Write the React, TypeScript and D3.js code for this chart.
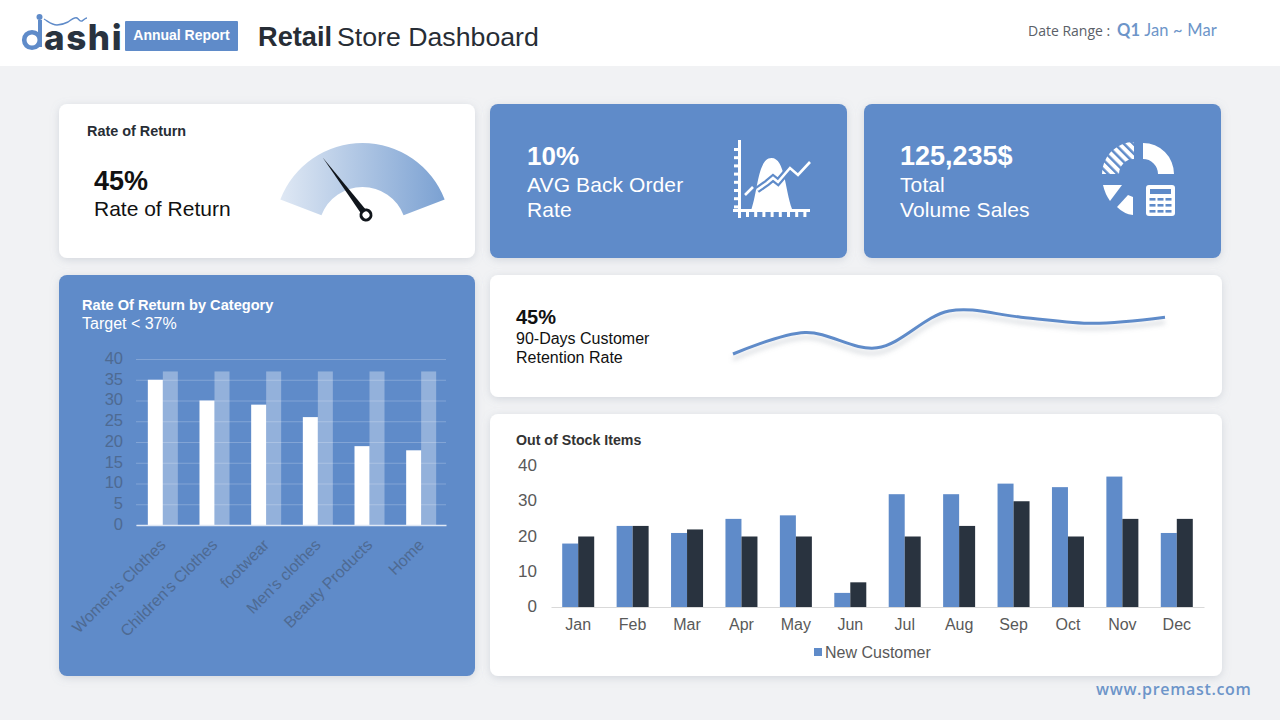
import React, { useRef, useEffect } from 'react';
import * as d3 from 'd3';

const categories = ["Women's Clothes", "Children's Clothes", 'footwear', "Men's clothes", 'Beauty Products', 'Home'];
const returnRates = [35, 30, 29, 26, 19, 18];
const targetRates = [37, 37, 37, 37, 37, 37];
const categoryTicks = [0, 5, 10, 15, 20, 25, 30, 35, 40];

const months = ['Jan', 'Feb', 'Mar', 'Apr', 'May', 'Jun', 'Jul', 'Aug', 'Sep', 'Oct', 'Nov', 'Dec'];
const newCustomer = [18, 23, 21, 25, 26, 4, 32, 32, 35, 34, 37, 21];
const otherItems = [20, 23, 22, 20, 20, 7, 20, 23, 30, 20, 25, 25];
const stockTicks = [0, 10, 20, 30, 40];

const retention = [38, 45, 40, 52, 50, 48, 50];

const BLUE = '#5f8bc9';
const DARK = '#29333f';
const SANS = '"Liberation Sans", Arial, sans-serif';
const LABEL_ON_BLUE = '#4e6a92';

const Card = ({ x, y, w, h, fill = '#fff' }: { x: number; y: number; w: number; h: number; fill?: string }) => (
  <rect x={x} y={y} width={w} height={h} rx={8} fill={fill} filter="url(#cardShadow)" />
);

const Gauge = () => {
  const arc = d3.arc();
  const a = (69 * Math.PI) / 180;
  const d = arc({ innerRadius: 44, outerRadius: 88, startAngle: -a, endAngle: a }) ?? '';
  const needleAngle = -37;
  return (
    <g>
      <path d={d} transform="translate(362.5,231)" fill="url(#gaugeFill)" />
      <g transform={`translate(366,215) rotate(${needleAngle})`}>
        <path d="M-3.2,0 L0,-72 L3.2,0 Z" fill="#10151b" />
        <circle r={5} fill="#fff" stroke="#10151b" strokeWidth={3} />
      </g>
    </g>
  );
};

const AreaIcon = () => {
  const yTicks = d3.range(148, 206, 8.2);
  const xTicks = d3.range(746, 810, 8.2);
  const trend = 'M745,195 L753,187 M757,190 L767,183 L773,178 L778,182 L790,168 L798,175 L810,162';
  return (
    <g fill="#fff" stroke="none">
      <rect x={738} y={140} width={3} height={78} />
      <rect x={733} y={209} width={77} height={3} />
      {yTicks.map((t) => (
        <rect key={t} x={734} y={t} width={5} height={3} />
      ))}
      {xTicks.map((t) => (
        <rect key={t} x={t} y={211} width={3} height={6} />
      ))}
      <path d="M751.5,209 C758,190 758,158 771.5,158 C785,158 785,190 792,209 Z" />
      <path d={trend} fill="none" stroke={BLUE} strokeWidth={7} />
      <path d={trend} fill="none" stroke="#fff" strokeWidth={2.6} />
    </g>
  );
};

const PieIcon = () => {
  const arc = d3.arc();
  const q = Math.PI / 2;
  const right = arc({ innerRadius: 15, outerRadius: 31, startAngle: 0, endAngle: q }) ?? '';
  const left = arc({ innerRadius: 15, outerRadius: 32, startAngle: -q, endAngle: 0 }) ?? '';
  const keys = d3.range(0, 3).flatMap((r) => d3.range(0, 3).map((c) => [r, c]));
  return (
    <g fill="#fff">
      <path d={right} transform="translate(1143,174)" />
      <path d={left} transform="translate(1134,174)" fill="url(#hatch)" />
      <path d="M1103,185 L1122,185 L1110,201 Q1105,194 1103,185 Z" />
      <path d="M1128,195 L1133,197 L1133,215 Q1124,214 1117,207 Z" />
      <rect x={1146} y={185} width={29} height={31} rx={3} />
      <rect x={1150} y={189} width={21} height={5} fill={BLUE} />
      {keys.map(([r, c]) => (
        <rect key={`${r}-${c}`} x={1149.5 + c * 8} y={198 + r * 6} width={6} height={2.6} fill={BLUE} />
      ))}
    </g>
  );
};

const Logo = () => (
  <g>
    <circle cx={32} cy={40} r={7.8} fill="none" stroke={BLUE} strokeWidth={4.6} />
    <path d="M40,20 V47" stroke={BLUE} strokeWidth={4} />
    <circle cx={39.5} cy={17} r={3} fill={BLUE} />
    <path
      d="M44,19 C49,22 52,25 57,25 C61,25 64,24 68,22 C72,19 75,17 77,18 C79,19 80,22 82,21 C84,20 85,18 87,18"
      fill="none"
      stroke={BLUE}
      strokeWidth={1.4}
    />
    <text x={44} y={50} fontFamily="Inter, sans-serif" fontWeight={800} fontSize={35} letterSpacing={1.6} fill={DARK}>
      ashi
    </text>
  </g>
);

const App = () => {
  const catRef = useRef<SVGGElement | null>(null);
  const stockRef = useRef<SVGGElement | null>(null);
  const lineRef = useRef<SVGGElement | null>(null);

  useEffect(() => {
    if (!catRef.current) {
      return;
    }
    const g = d3.select(catRef.current);
    g.selectAll('*').remove();

    const x = d3.scaleBand().domain(categories).range([136, 446]);
    const y = d3.scaleLinear().domain([0, 40]).range([525, 359]);
    const barW = 15;
    const barShift = 1;

    const yAxis = d3.axisLeft(y).tickValues(categoryTicks).tickSize(-310).tickPadding(13);
    g.append('g')
      .attr('transform', 'translate(136,0)')
      .call(yAxis)
      .call((s) => s.select('.domain').remove())
      .call((s) => s.selectAll('.tick line').attr('stroke', '#fff').attr('stroke-opacity', 0.22))
      .call((s) =>
        s
          .selectAll('.tick text')
          .attr('fill', LABEL_ON_BLUE)
          .attr('font-size', 16.5)
          .attr('font-family', SANS)
          .attr('dy', '0.27em'),
      );

    g.selectAll('.target')
      .data(targetRates)
      .join('rect')
      .attr('class', 'target')
      .attr('x', (_, i) => (x(categories[i]) ?? 0) + x.bandwidth() / 2 + barShift)
      .attr('y', (d) => y(d))
      .attr('width', barW)
      .attr('height', (d) => y(0) - y(d))
      .attr('fill', '#fff')
      .attr('fill-opacity', 0.33);

    g.selectAll('.rate')
      .data(returnRates)
      .join('rect')
      .attr('class', 'rate')
      .attr('x', (_, i) => (x(categories[i]) ?? 0) + x.bandwidth() / 2 - barW + barShift)
      .attr('y', (d) => y(d))
      .attr('width', barW)
      .attr('height', (d) => y(0) - y(d))
      .attr('fill', '#fff');

    const xAxis = d3.axisBottom(x).tickSize(0);
    g.append('g')
      .attr('transform', 'translate(0,525)')
      .call(xAxis)
      .call((s) => s.select('.domain').attr('stroke', '#dfe8f5').attr('stroke-width', 1.5))
      .call((s) =>
        s
          .selectAll('.tick text')
          .attr('fill', LABEL_ON_BLUE)
          .attr('font-size', 16)
          .attr('font-family', SANS)
          .attr('text-anchor', 'end')
          .attr('transform', 'translate(-3,13) rotate(-45)')
          .attr('dy', '0.7em')
          .attr('y', 0),
      );
  }, []);

  useEffect(() => {
    if (!stockRef.current) {
      return;
    }
    const g = d3.select(stockRef.current);
    g.selectAll('*').remove();

    const x = d3.scaleBand().domain(months).range([551, 1204]);
    const y = d3.scaleLinear().domain([0, 40]).range([607, 466]);
    const barW = 16;

    g.append('g')
      .attr('transform', 'translate(551,0)')
      .call(d3.axisLeft(y).tickValues(stockTicks).tickSize(0).tickPadding(14))
      .call((s) => s.select('.domain').remove())
      .call((s) =>
        s
          .selectAll('.tick text')
          .attr('fill', '#595959')
          .attr('font-size', 17)
          .attr('font-family', SANS)
          .attr('dy', '0.27em'),
      );

    g.selectAll('.cust')
      .data(newCustomer)
      .join('rect')
      .attr('class', 'cust')
      .attr('x', (_, i) => (x(months[i]) ?? 0) + x.bandwidth() / 2 - barW)
      .attr('y', (d) => y(d))
      .attr('width', barW)
      .attr('height', (d) => y(0) - y(d))
      .attr('fill', BLUE);

    g.selectAll('.other')
      .data(otherItems)
      .join('rect')
      .attr('class', 'other')
      .attr('x', (_, i) => (x(months[i]) ?? 0) + x.bandwidth() / 2)
      .attr('y', (d) => y(d))
      .attr('width', barW)
      .attr('height', (d) => y(0) - y(d))
      .attr('fill', DARK);

    g.append('g')
      .attr('transform', 'translate(0,607)')
      .call(d3.axisBottom(x).tickSize(0).tickPadding(12))
      .call((s) => s.select('.domain').attr('stroke', '#d9d9d9'))
      .call((s) =>
        s.selectAll('.tick text').attr('fill', '#595959').attr('font-size', 16).attr('font-family', SANS),
      );
  }, []);

  useEffect(() => {
    if (!lineRef.current) {
      return;
    }
    const g = d3.select(lineRef.current);
    g.selectAll('*').remove();

    const x = d3.scalePoint<number>().domain(d3.range(retention.length)).range([733, 1165]);
    const y = d3.scaleLinear().domain([38, 52]).range([354, 311]);
    const line = d3
      .line<number>()
      .curve(d3.curveCatmullRom.alpha(0.5))
      .x((_, i) => x(i) ?? 0)
      .y((d) => y(d));

    g.append('path')
      .datum(retention)
      .attr('d', line)
      .attr('fill', 'none')
      .attr('stroke', BLUE)
      .attr('stroke-width', 3)
      .attr('filter', 'url(#lineShadow)');
  }, []);

  return (
    <svg
      width={1280}
      height={720}
      viewBox="0 0 1280 720"
      style={{ position: 'absolute', left: 0, top: 0 }}
      fontFamily={SANS}
    >
      <defs>
        <filter id="cardShadow" x="-10%" y="-10%" width="120%" height="130%">
          <feDropShadow dx={0} dy={2} stdDeviation={4} floodColor="#8a97a8" floodOpacity={0.3} />
        </filter>
        <filter id="lineShadow" x="-5%" y="-50%" width="110%" height="200%">
          <feDropShadow dx={0} dy={5} stdDeviation={2.5} floodColor="#7d8794" floodOpacity={0.35} />
        </filter>
        <linearGradient id="gaugeFill" x1="0" x2="1" y1="0" y2="0">
          <stop offset="0%" stopColor="#dfe8f4" />
          <stop offset="100%" stopColor="#7ba1d2" />
        </linearGradient>
        <pattern id="hatch" width={6.5} height={6.5} patternUnits="userSpaceOnUse" patternTransform="rotate(45)">
          <rect width={6.5} height={4} fill="#fff" />
        </pattern>
      </defs>

      <rect width={1280} height={720} fill="#f1f2f4" />
      <rect width={1280} height={66} fill="#fff" />

      <Logo />
      <rect x={125} y={21} width={113} height={30} fill={BLUE} rx={1} />
      <text x={181.5} y={40} textAnchor="middle" fill="#fff" fontSize={14} fontWeight={700}>
        Annual Report
      </text>
      <text x={258} y={46} fill="#272d35">
        <tspan fontWeight={700} fontSize={27.2}>
          Retail
        </tspan>
        <tspan dx={5} fontSize={26.7}>
          Store Dashboard
        </tspan>
      </text>
      <text x={1028} y={36} fontFamily='"Open Sans", sans-serif' fontSize={14} fill="#5a6068">
        Date Range :
      </text>
      <text x={1117} y={36} fontFamily="Lato, sans-serif" fontSize={16.5} fill="#6d95c9" letterSpacing={0.15}>
        <tspan fontWeight={700}>Q1</tspan>
        <tspan dx={4}>Jan ~ Mar</tspan>
      </text>

      <Card x={59} y={104} w={416} h={154} />
      <text x={87} y={136} fontSize={14.4} fontWeight={700} fill="#272d35">
        Rate of Return
      </text>
      <text x={94} y={190} fontSize={27} fontWeight={700} fill="#111">
        45%
      </text>
      <text x={94} y={216} fontSize={21} fill="#111">
        Rate of Return
      </text>
      <Gauge />

      <Card x={490} y={104} w={357} h={154} fill={BLUE} />
      <text x={527} y={165} fontSize={26} fontWeight={700} fill="#fff">
        10%
      </text>
      <text x={527} y={192} fontSize={21} letterSpacing={0.1} fill="#fff">
        AVG Back Order
      </text>
      <text x={527} y={217} fontSize={21} letterSpacing={0.1} fill="#fff">
        Rate
      </text>
      <AreaIcon />

      <Card x={864} y={104} w={357} h={154} fill={BLUE} />
      <text x={900} y={165} fontSize={27} fontWeight={700} fill="#fff">
        125,235$
      </text>
      <text x={900} y={192} fontSize={21} letterSpacing={0.1} fill="#fff">
        Total
      </text>
      <text x={900} y={217} fontSize={21} letterSpacing={0.1} fill="#fff">
        Volume Sales
      </text>
      <PieIcon />

      <Card x={59} y={275} w={416} h={401} fill={BLUE} />
      <text x={82} y={310} fontSize={14.6} fontWeight={700} fill="#fff">
        Rate Of Return by Category
      </text>
      <text x={82} y={329} fontSize={16} fill="#fff">
        Target &lt; 37%
      </text>
      <g ref={catRef} />

      <Card x={490} y={275} w={732} h={122} />
      <text x={516} y={324} fontSize={20} fontWeight={700} fill="#111">
        45%
      </text>
      <text x={516} y={344} fontSize={16} fill="#111">
        90-Days Customer
      </text>
      <text x={516} y={363} fontSize={16} fill="#111">
        Retention Rate
      </text>
      <g ref={lineRef} />

      <Card x={490} y={414} w={732} h={262} />
      <text x={516} y={445} fontSize={14.2} fontWeight={700} fill="#333">
        Out of Stock Items
      </text>
      <g ref={stockRef} />
      <rect x={814} y={648} width={8} height={8} fill={BLUE} />
      <text x={825} y={658} fontSize={16} fill="#595959">
        New Customer
      </text>

      <text x={1096} y={695} fontFamily='"Open Sans", sans-serif' fontSize={16} fontWeight={600} letterSpacing={0.65} fill="#6d95c9">
        www.premast.com
      </text>
    </svg>
  );
};

export default App;
